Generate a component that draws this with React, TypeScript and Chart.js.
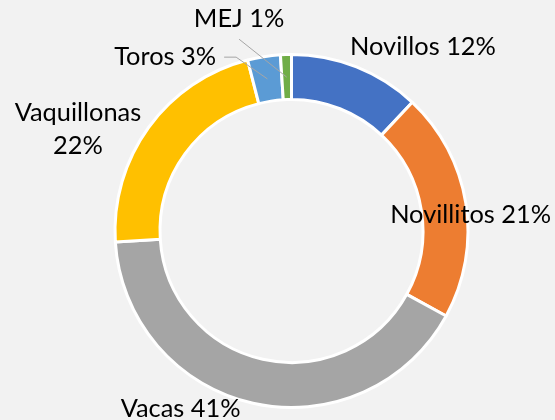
import React, { useEffect, useRef } from "react";
import { Chart, registerables } from "chart.js";

Chart.register(...registerables);

const categories = ["Novillos", "Novillitos", "Vacas", "Vaquillonas", "Toros", "MEJ"];
const shares = [12, 21, 41, 22, 3, 1];
const colors = ["#4472C4", "#ED7D31", "#A5A5A5", "#FFC000", "#5B9BD5", "#70AD47"];

// label layout (text centre offset from doughnut centre, in units of outer radius)
const labelOffsets: [number, number][] = [
  [0.745, -1.045],
  [1.015, -0.094],
  [-0.628, 1.005],
  [-1.21, -0.575],
  [-0.716, -0.985],
  [-0.297, -1.2],
];
const labelTwoLines = [false, false, false, true, false, false];
const leaderStyle = ["none", "none", "none", "none", "side", "below"];

const FONT_SIZE = 25.4;
const FONT = `${FONT_SIZE}px Lato, "DejaVu Sans", sans-serif`;
const LINE_H = 33;

const labelPlugin = {
  id: "doughnutLabels",
  beforeDraw(chart: any) {
    const ctx = chart.ctx;
    ctx.save();
    ctx.fillStyle = "#F2F2F2";
    ctx.fillRect(0, 0, chart.width, chart.height);
    ctx.restore();
  },
  afterDraw(chart: any) {
    const ctx = chart.ctx;
    const meta = chart.getDatasetMeta(0);
    ctx.save();
    ctx.font = FONT;
    ctx.textAlign = "center";
    ctx.textBaseline = "middle";
    meta.data.forEach((arc: any, i: number) => {
      const R = arc.outerRadius;
      const cx = arc.x + labelOffsets[i][0] * R;
      const cy = arc.y + labelOffsets[i][1] * R;
      const lines = labelTwoLines[i]
        ? [categories[i], `${shares[i]}%`]
        : [`${categories[i]} ${shares[i]}%`];
      const mid = (arc.startAngle + arc.endAngle) / 2;
      const rMid = (arc.innerRadius + arc.outerRadius) / 2;
      const ex = arc.x + Math.cos(mid) * rMid;
      const ey = arc.y + Math.sin(mid) * rMid;
      const w = ctx.measureText(lines[0]).width;
      ctx.strokeStyle = "#A6A6A6";
      ctx.lineWidth = 1;
      if (leaderStyle[i] === "side") {
        const sx = cx + w / 2 + 8;
        const sy = cy;
        ctx.beginPath();
        ctx.moveTo(sx, sy);
        ctx.lineTo(sx + 12, sy);
        ctx.lineTo(ex, ey);
        ctx.stroke();
      } else if (leaderStyle[i] === "below") {
        const sx = cx;
        const sy = cy + 20;
        ctx.beginPath();
        ctx.moveTo(sx, sy);
        ctx.lineTo(ex, ey);
        ctx.stroke();
      }
      ctx.fillStyle = "#000000";
      const top = cy - ((lines.length - 1) * LINE_H) / 2;
      lines.forEach((t, k) => ctx.fillText(t, cx, top + k * LINE_H));
    });
    ctx.restore();
  },
};

export default function App() {
  const ref = useRef<HTMLCanvasElement | null>(null);
  useEffect(() => {
    if (!ref.current) return;
    const chart = new Chart(ref.current, {
      type: "doughnut",
      data: {
        labels: categories,
        datasets: [
          {
            data: shares,
            backgroundColor: colors,
            borderColor: "#FFFFFF",
            borderWidth: 3,
          },
        ],
      },
      options: {
        responsive: false,
        maintainAspectRatio: false,
        animation: false,
        cutout: "74.5%",
        layout: { padding: { top: 53, bottom: 11, left: 113.5, right: 85.5 } },
        plugins: {
          legend: { display: false },
          tooltip: { enabled: false },
        },
      },
      plugins: [labelPlugin],
    });
    return () => chart.destroy();
  }, []);
  return (
    <div style={{ position: "fixed", left: 0, top: 0, width: 555, height: 420, background: "#F2F2F2" }}>
      <canvas ref={ref} width={555} height={420} style={{ display: "block" }} />
    </div>
  );
}
